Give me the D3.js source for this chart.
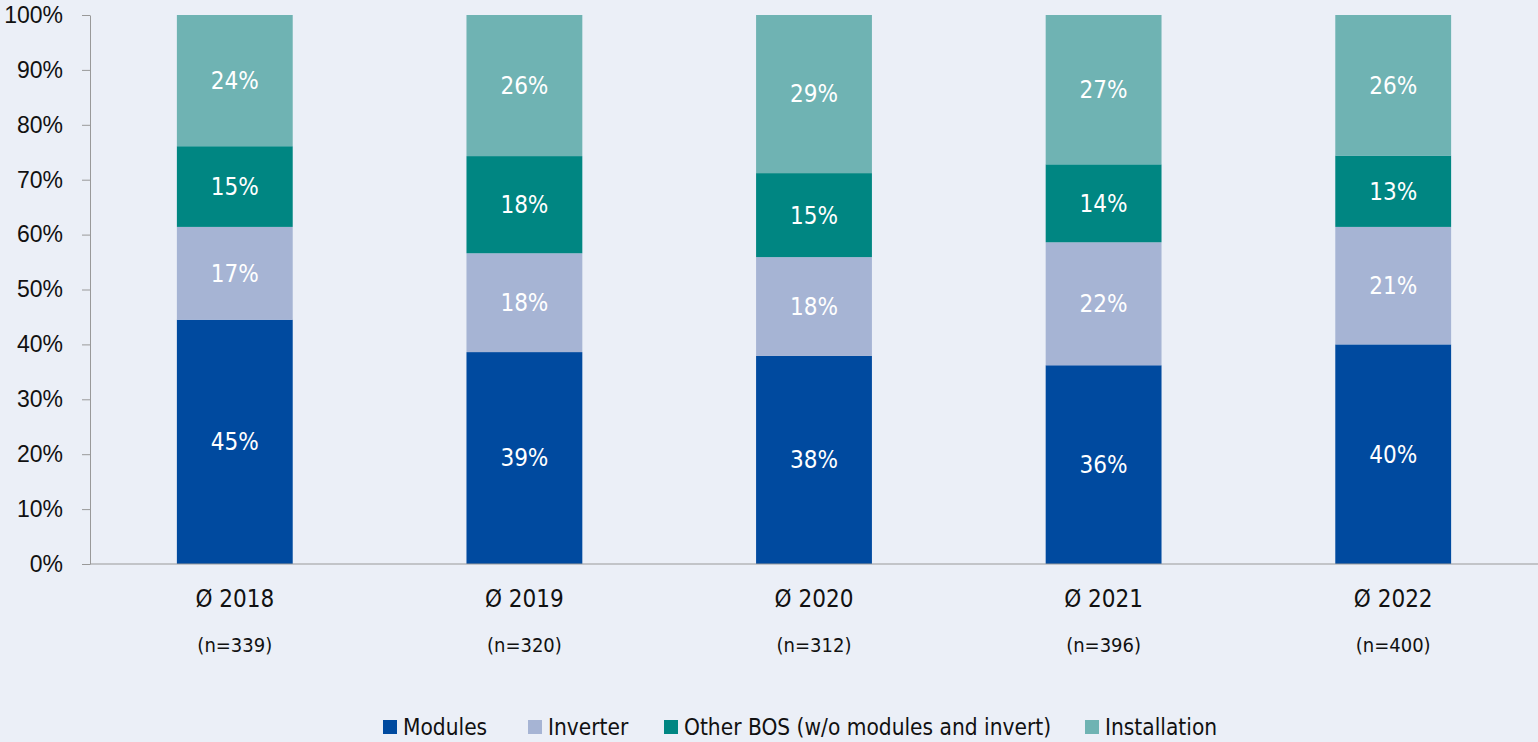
<!DOCTYPE html>
<html>
<head>
<meta charset="utf-8">
<script src="https://cdn.jsdelivr.net/npm/d3@7"></script>
<style>
  html, body { margin: 0; padding: 0; background: #ebeff7; }
  svg { display: block; font-family: "Liberation Sans Narrow", "DejaVu Sans Condensed", "Open Sans", sans-serif; }
</style>
</head>
<body>
<div class="container"></div>
<script>
const years = ['Ø 2018', 'Ø 2019', 'Ø 2020', 'Ø 2021', 'Ø 2022'];
const sampleSizes = ['(n=339)', '(n=320)', '(n=312)', '(n=396)', '(n=400)'];
const seriesNames = ['Modules', 'Inverter', 'Other BOS (w/o modules and invert)', 'Installation'];
const colors = ['#004a9f', '#a6b4d4', '#008682', '#6fb3b3'];
const modules = [44.5, 38.6, 37.9, 36.2, 40.0];
const inverter = [16.9, 18.0, 18.0, 22.4, 21.4];
const otherBos = [14.7, 17.7, 15.3, 14.2, 13.0];
const installation = [23.9, 25.7, 28.8, 27.2, 25.6];
const yTicks = [0, 10, 20, 30, 40, 50, 60, 70, 80, 90, 100];

const width = 1538, height = 742;
const margin = {top: 15, right: 0, bottom: 178, left: 90};

const rows = years.map((y, i) => ({
  year: y, n: sampleSizes[i],
  Modules: modules[i], Inverter: inverter[i],
  'Other BOS (w/o modules and invert)': otherBos[i], Installation: installation[i]
}));

const stack = d3.stack().keys(seriesNames);
const series = stack(rows);

const x = d3.scaleBand()
  .domain(years)
  .range([margin.left, width - margin.right])
  .paddingInner(0.6)
  .paddingOuter(0.3);

const y = d3.scaleLinear()
  .domain([0, 100])
  .range([height - margin.bottom, margin.top]);

const color = d3.scaleOrdinal().domain(seriesNames).range(colors);

const svg = d3.select('.container')
  .append('svg')
  .attr('width', width)
  .attr('height', height);

// bars
const groups = svg.append('g')
  .selectAll('g')
  .data(series)
  .join('g')
  .attr('fill', d => color(d.key));

groups.selectAll('rect')
  .data(d => d)
  .join('rect')
  .attr('x', d => x(d.data.year))
  .attr('y', d => y(d[1]))
  .attr('width', x.bandwidth())
  .attr('height', d => y(d[0]) - y(d[1]));

// segment labels
groups.selectAll('text')
  .data(d => d)
  .join('text')
  .attr('x', d => x(d.data.year) + x.bandwidth() / 2)
  .attr('y', d => (y(d[0]) + y(d[1])) / 2)
  .attr('dy', '0.35em')
  .attr('text-anchor', 'middle')
  .attr('fill', '#fff')
  .attr('font-size', 24)
  .text(d => Math.round(d[1] - d[0]) + '%');

// y axis
const yAxis = svg.append('g')
  .attr('transform', `translate(${margin.left},0)`)
  .call(d3.axisLeft(y).tickValues(yTicks).tickFormat(d => d + '%').tickSize(8).tickSizeOuter(0));
yAxis.select('.domain').attr('stroke', '#999');
yAxis.selectAll('.tick line').attr('stroke', '#999');
yAxis.selectAll('.tick text')
  .attr('x', -27)
  .attr('fill', '#111')
  .attr('font-size', 23)
  .attr('font-family', null);

// baseline
svg.append('line')
  .attr('x1', margin.left).attr('x2', width)
  .attr('y1', y(0)).attr('y2', y(0))
  .attr('stroke', '#999');

// x labels
const xl = svg.append('g')
  .selectAll('g')
  .data(rows)
  .join('g')
  .attr('transform', d => `translate(${x(d.year) + x.bandwidth() / 2},0)`);
xl.append('text')
  .attr('y', 607)
  .attr('text-anchor', 'middle')
  .attr('fill', '#111')
  .attr('font-size', 24)
  .text(d => d.year);
xl.append('text')
  .attr('y', 652)
  .attr('text-anchor', 'middle')
  .attr('fill', '#111')
  .attr('font-size', 20)
  .text(d => d.n);

// legend
const legendX = [383, 528, 664, 1085];
const legend = svg.append('g')
  .selectAll('g')
  .data(seriesNames)
  .join('g')
  .attr('transform', (d, i) => `translate(${legendX[i]},727)`);
legend.append('rect')
  .attr('x', 0).attr('y', -7)
  .attr('width', 14).attr('height', 14)
  .attr('fill', d => color(d));
legend.append('text')
  .attr('x', 20)
  .attr('dy', '0.35em')
  .attr('fill', '#111')
  .attr('font-size', 22.5)
  .text(d => d);
</script>
</body>
</html>
